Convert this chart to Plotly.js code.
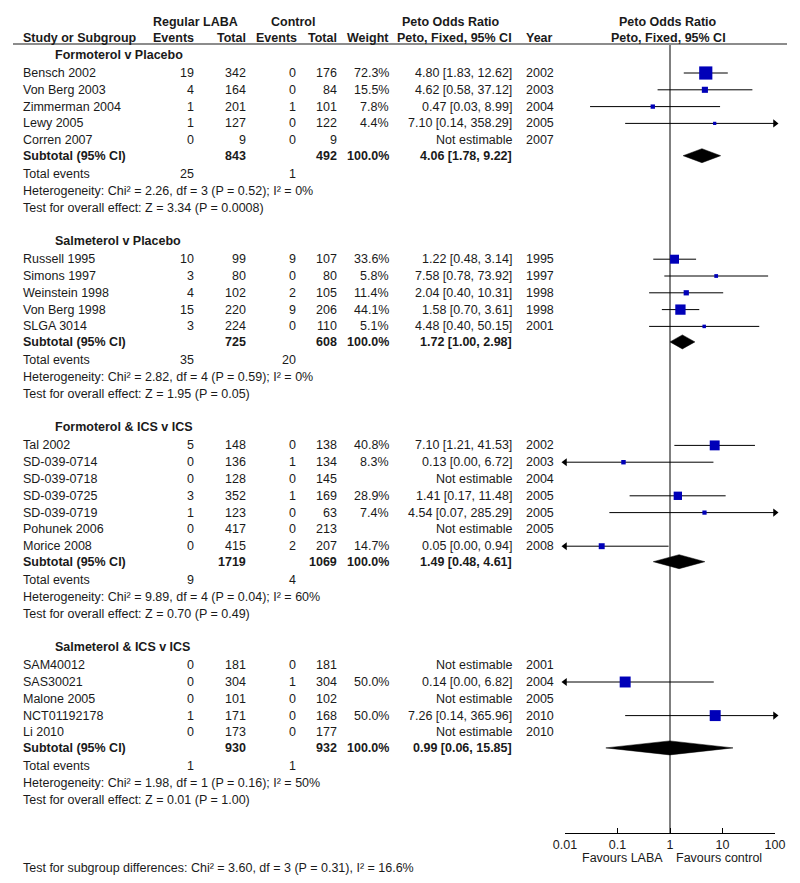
<!DOCTYPE html>
<html><head><meta charset="utf-8">
<script src="https://cdn.plot.ly/plotly-3.0.1.min.js"></script>
<style>html,body{margin:0;padding:0;background:#fff}#chart{width:800px;height:883px}</style>
</head><body><div id="chart"></div>
<script>
// ---------- DATA ----------
const groupNames = ["Formoterol v Placebo", "Salmeterol v Placebo", "Formoterol & ICS v ICS", "Salmeterol & ICS v ICS"];
const studyGroup = [0,0,0,0,0, 1,1,1,1,1, 2,2,2,2,2,2,2, 3,3,3,3,3];
const studyNames = ["Bensch 2002","Von Berg 2003","Zimmerman 2004","Lewy 2005","Corren 2007",
  "Russell 1995","Simons 1997","Weinstein 1998","Von Berg 1998","SLGA 3014",
  "Tal 2002","SD-039-0714","SD-039-0718","SD-039-0725","SD-039-0719","Pohunek 2006","Morice 2008",
  "SAM40012","SAS30021","Malone 2005","NCT01192178","Li 2010"];
const labaEvents = [19,4,1,1,0, 10,3,4,15,3, 5,0,0,3,1,0,0, 0,0,0,1,0];
const labaTotal  = [342,164,201,127,9, 99,80,102,220,224, 148,136,128,352,123,417,415, 181,304,101,171,173];
const ctrlEvents = [0,0,1,0,0, 9,0,2,9,0, 0,1,0,1,0,0,2, 0,1,0,0,0];
const ctrlTotal  = [176,84,101,122,9, 107,80,105,206,110, 138,134,145,169,63,213,207, 181,304,102,168,177];
const weights    = [72.3,15.5,7.8,4.4,null, 33.6,5.8,11.4,44.1,5.1, 40.8,8.3,null,28.9,7.4,null,14.7, null,50.0,null,50.0,null];
const orEst      = [4.80,4.62,0.47,7.10,null, 1.22,7.58,2.04,1.58,4.48, 7.10,0.13,null,1.41,4.54,null,0.05, null,0.14,null,7.26,null];
const orLow      = [1.83,0.58,0.03,0.14,null, 0.48,0.78,0.40,0.70,0.40, 1.21,0.00,null,0.17,0.07,null,0.00, null,0.00,null,0.14,null];
const orHigh     = [12.62,37.12,8.99,358.29,null, 3.14,73.92,10.31,3.61,50.15, 41.53,6.72,null,11.48,285.29,null,0.94, null,6.82,null,365.96,null];
const years      = [2002,2003,2004,2005,2007, 1995,1997,1998,1998,2001, 2002,2003,2004,2005,2005,2005,2008, 2001,2004,2005,2010,2010];

const subLabaTotal = [843,725,1719,930];
const subCtrlTotal = [492,608,1069,932];
const subEst  = [4.06,1.72,1.49,0.99];
const subLow  = [1.78,1.00,0.48,0.06];
const subHigh = [9.22,2.98,4.61,15.85];
const totLabaEvents = [25,35,9,1];
const totCtrlEvents = [1,20,4,1];
const hetChi = ["2.26","2.82","9.89","1.98"];
const hetDf  = [3,4,4,1];
const hetP   = ["0.52","0.59","0.04","0.16"];
const hetI2  = [0,0,60,50];
const effZ   = ["3.34","1.95","0.70","0.01"];
const effP   = ["0.0008","0.05","0.49","1.00"];

const tickVals = [0.01,0.1,1,10,100];
const tickText = ["0.01","0.1","1","10","100"];
const subgroupDiff = "Test for subgroup differences: Chi² = 3.60, df = 3 (P = 0.31), I² = 16.6%";

// ---------- LAYOUT HELPERS ----------
const W = 800, H = 883;
const FONT = 'Liberation Sans, Arial, sans-serif';
const FS = 12.5;
const TXT = '#1a1a1a';
const ann = [];
function txt(text, x, y, anchor, bold, size) {
  ann.push({text: bold ? '<b>' + text + '</b>' : text, x: x / W, xref: 'paper', y: y, yref: 'y',
    xanchor: anchor, yanchor: 'middle', showarrow: false, borderpad: 0,
    font: {family: FONT, size: size || FS, color: TXT}});
}
const C = {name: 22, grp: 54, lEv: 195, lTot: 247, cEv: 297, cTot: 338, wt: 390, orT: 513, yr: 525, plotC: 668};
const XMIN = 0.01, XMAX = 100;

// headers
txt('Regular LABA', 195, 22, 'center', true);
txt('Control', 293, 22, 'center', true);
txt('Peto Odds Ratio', 451, 22, 'center', true);
txt('Peto Odds Ratio', C.plotC, 22, 'center', true);
txt('Study or Subgroup', C.name, 38, 'left', true);
txt('Events', C.lEv, 38, 'right', true);
txt('Total', C.lTot, 38, 'right', true);
txt('Events', C.cEv + 1, 38, 'right', true);
txt('Total', C.cTot, 38, 'right', true);
txt('Weight', C.wt, 38, 'right', true);
txt('Peto, Fixed, 95% CI', C.orT, 38, 'right', true);
txt('Year', C.yr, 38, 'left', true);
txt('Peto, Fixed, 95% CI', C.plotC, 38, 'center', true);

const fmt2 = v => v.toFixed(2);
const ciX = [], ciY = [], sqX = [], sqY = [], sqS = [];
const arR = [], arRy = [], arL = [], arLy = [];
const dX = [], dY = [];

let y = 55;
groupNames.forEach((g, gi) => {
  txt(g, C.grp, y, 'left', true);
  y += 18;
  let first = true;
  studyGroup.forEach((sg, i) => {
    if (sg !== gi) return;
    if (!first) y += 16.8;
    first = false;
    txt(studyNames[i], C.name, y, 'left');
    txt(String(labaEvents[i]), C.lEv, y, 'right');
    txt(String(labaTotal[i]), C.lTot, y, 'right');
    txt(String(ctrlEvents[i]), C.cEv, y, 'right');
    txt(String(ctrlTotal[i]), C.cTot, y, 'right');
    if (weights[i] !== null) txt(weights[i].toFixed(1) + '%', C.wt, y, 'right');
    if (orEst[i] !== null) {
      txt(fmt2(orEst[i]) + ' [' + fmt2(orLow[i]) + ', ' + fmt2(orHigh[i]) + ']', C.orT, y, 'right');
      const lo = Math.max(orLow[i], XMIN), hi = Math.min(orHigh[i], XMAX);
      ciX.push(lo, hi, null); ciY.push(y, y, null);
      if (orLow[i] < XMIN) { arL.push(XMIN); arLy.push(y); }
      if (orHigh[i] > XMAX) { arR.push(XMAX); arRy.push(y); }
      sqX.push(orEst[i]); sqY.push(y); sqS.push(Math.max(3, 1.55 * Math.sqrt(weights[i])));
    } else {
      txt('Not estimable', C.orT, y, 'right');
    }
    txt(String(years[i]), C.yr, y, 'left');
  });
  y += 15.5;
  txt('Subtotal (95% CI)', C.name, y, 'left', true);
  txt(String(subLabaTotal[gi]), C.lTot, y, 'right', true);
  txt(String(subCtrlTotal[gi]), C.cTot, y, 'right', true);
  txt('100.0%', C.wt, y, 'right', true);
  txt(fmt2(subEst[gi]) + ' [' + fmt2(subLow[gi]) + ', ' + fmt2(subHigh[gi]) + ']', C.orT, y, 'right', true);
  dX.push(subLow[gi], subEst[gi], subHigh[gi], subEst[gi], subLow[gi], null);
  dY.push(y, y - 7, y, y + 7, y, null);
  y += 18.5;
  txt('Total events', C.name, y, 'left');
  txt(String(totLabaEvents[gi]), C.lEv, y, 'right');
  txt(String(totCtrlEvents[gi]), C.cEv, y, 'right');
  y += 17;
  txt('Heterogeneity: Chi² = ' + hetChi[gi] + ', df = ' + hetDf[gi] + ' (P = ' + hetP[gi] + '); I² = ' + hetI2[gi] + '%', C.name, y, 'left');
  y += 17;
  txt('Test for overall effect: Z = ' + effZ[gi] + ' (P = ' + effP[gi] + ')', C.name, y, 'left');
  y += 33;
});

const AXIS_Y = 833;
txt('Favours LABA', 664, 858, 'right');
txt('Favours control', 675, 858, 'left');
txt(subgroupDiff, C.name, 868, 'left');

const traces = [
  {x: [1, 1], y: [44, AXIS_Y], mode: 'lines', line: {color: '#000', width: 1}, hoverinfo: 'skip'},
  {x: ciX, y: ciY, mode: 'lines', line: {color: '#000', width: 1}, connectgaps: false, hoverinfo: 'skip'},
  {x: arR, y: arRy, mode: 'markers', marker: {symbol: 'triangle-right', size: 7, color: '#000', opacity: 1}, cliponaxis: false, hoverinfo: 'skip'},
  {x: arL, y: arLy, mode: 'markers', marker: {symbol: 'triangle-left', size: 7, color: '#000', opacity: 1}, cliponaxis: false, hoverinfo: 'skip'},
  {x: sqX, y: sqY, mode: 'markers', marker: {symbol: 'square', size: sqS, color: '#0000b8', opacity: 1, line: {width: 0}}, cliponaxis: false, hoverinfo: 'skip'},
  {x: dX, y: dY, mode: 'lines', fill: 'toself', fillcolor: '#000', line: {color: '#000', width: 0.5}, connectgaps: false, hoverinfo: 'skip'}
];

const layout = {
  width: W, height: H, margin: {l: 0, r: 0, t: 0, b: 0},
  paper_bgcolor: '#fff', plot_bgcolor: 'rgba(0,0,0,0)', showlegend: false,
  font: {family: FONT, size: FS, color: TXT},
  xaxis: {type: 'log', range: [-2, 2], domain: [565 / W, 775 / W], anchor: 'free', position: 1 - AXIS_Y / H,
    showline: true, linecolor: '#000', linewidth: 1, ticks: 'inside', ticklen: 5, tickcolor: '#000', tickwidth: 1,
    tickvals: tickVals, ticktext: tickText, showgrid: false, zeroline: false,
    tickfont: {family: FONT, size: FS, color: TXT}, fixedrange: true},
  yaxis: {range: [H, 0], domain: [0, 1], visible: false, showgrid: false, zeroline: false, fixedrange: true},
  shapes: [{type: 'line', xref: 'paper', yref: 'y', x0: 13 / W, x1: 787 / W, y0: 44, y1: 44, line: {color: '#8c8c8c', width: 2}}],
  annotations: ann,
  hovermode: false
};
Plotly.newPlot('chart', traces, layout, {staticPlot: true, displayModeBar: false});
</script>
</body></html>
